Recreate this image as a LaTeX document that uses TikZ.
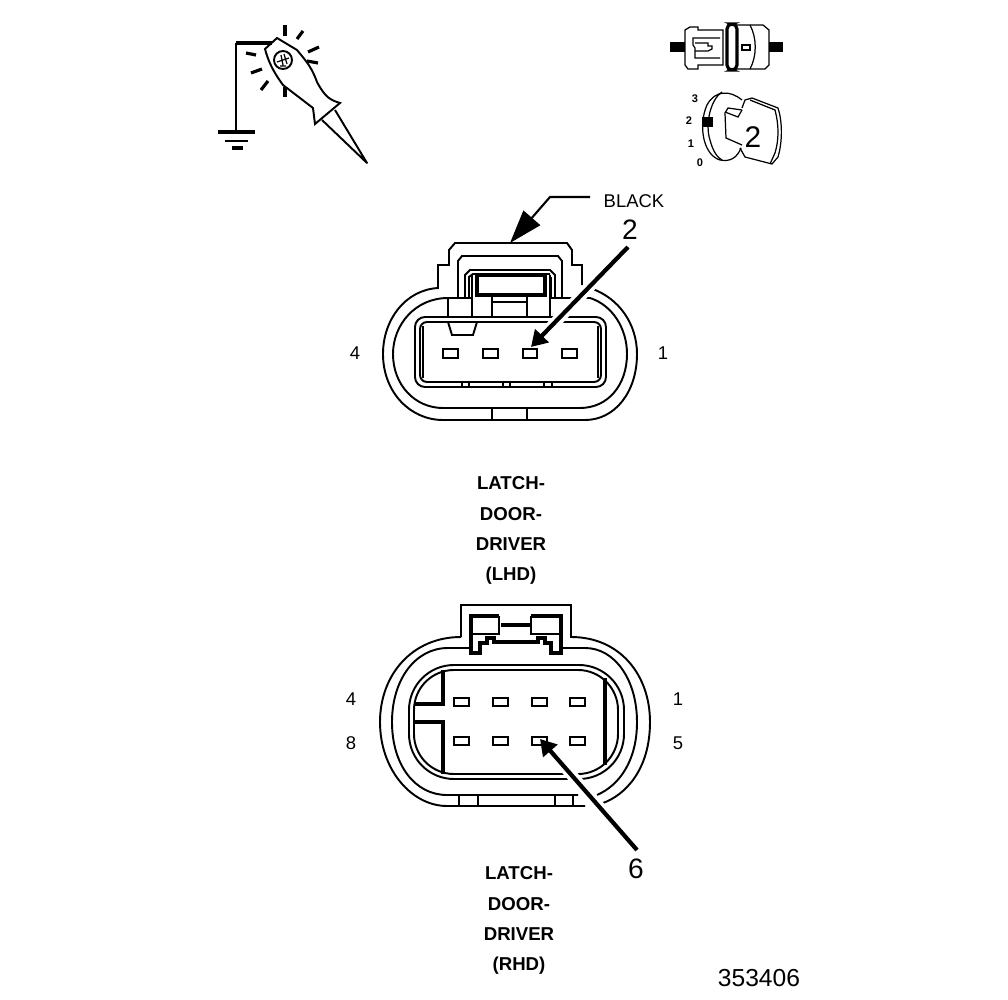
\documentclass[tikz,border=0pt]{standalone}
\usepackage{fontspec}
\setmainfont{Liberation Sans}
\usetikzlibrary{arrows.meta}
\tikzset{
  thinline/.style={black,line width=1.1pt},
  hairline/.style={black,line width=0.7pt},
  heavyline/.style={black,line width=1.8pt},
  halo/.style={white,line width=6.5pt},
  pointer/.style={black,line width=2.4pt,-{Triangle[length=9pt,width=10.5pt]}},
  pinbox/.style={draw=black,line width=1.1pt,rectangle,minimum width=8.4pt,minimum height=5.6pt,inner sep=0pt},
  pinboxlow/.style={draw=black,line width=1.1pt,rectangle,minimum width=8.4pt,minimum height=4.4pt,inner sep=0pt},
  pinlabel/.style={font=\fontsize{10.5}{12}\selectfont,inner sep=0pt},
  biglabel/.style={font=\fontsize{16}{18}\selectfont,inner sep=0pt},
  keylabel/.style={font=\bfseries\fontsize{6.3}{7}\selectfont,inner sep=0pt},
  caption/.style={font=\bfseries\fontsize{10.6}{12}\selectfont,inner sep=0pt,anchor=base}
}
\begin{document}
\begin{tikzpicture}[x=0.2mm,y=-0.2mm]
  \useasboundingbox (0,0) rectangle (1008,1000);
  % test light
  \draw [heavyline] (236,43) -- (272,43);
  \draw [thinline] (236,43) -- (236,132);
  \draw [heavyline] (218,132) -- (255,132);
  \draw [thinline] (225,141) -- (248,141);
  \draw [heavyline] (232,148) -- (243,148);
  \draw [thinline] (277,38) -- (265,49) .. controls (268,60) and (272,70) .. (283,85)
    -- (313,108) -- (315,124) -- (340,103) .. controls (330,100) and (325,97) .. (317,82)
    .. controls (312,68) and (307,62) .. (297,50) -- cycle;
  \draw [thinline,line join=round] (322,120) -- (367,163) -- (335,110);
  \draw [thinline] (283,60) circle (9);
  \draw [hairline] (277,62) -- (289,58) (281,55) -- (283,65) (284,54) -- (287,64) (280,66) -- (286,66);
  \foreach \xa/\ya/\xb/\yb in {285/25/285/36, 303/31/297/39, 319/47/308/52, 318/63/307/61,
                               246/53/256/55, 251/73/262/69, 261/90/268/81, 285/87/285/97}
    \draw [heavyline] (\xa,\ya) -- (\xb,\yb);
  % key switch, upper part
  \fill [black] (670,42) rectangle (685,52);
  \fill [black] (769,42) rectangle (783,52);
  \draw [hairline] (685,43) -- (685,30) -- (690,27) -- (698,27) -- (698,30) -- (723,30)
    -- (723,65) -- (698,65) -- (698,69) -- (688,69) -- (685,65) -- cycle;
  \draw [hairline] (720,38) -- (693,38) -- (693,45) -- (695,48) -- (695,58) -- (720,58);
  \draw [hairline] (695,43) -- (708,43) -- (708,46) -- (712,46) -- (712,49) -- (708,51) -- (695,51);
  \draw [heavyline,rounded corners=1mm] (727,24) rectangle (737,70);
  \draw [hairline] (737,25) -- (763,25) -- (769,30) -- (769,65) -- (765,69) -- (737,69);
  \draw [hairline] (750,25) .. controls (757,38) and (757,56) .. (750,69);
  \draw [hairline] (742,45) rectangle (750,50);
  % key switch, lower part
  \draw [hairline] (742,100) .. controls (730,90) and (715,90) .. (707,105)
    .. controls (698,125) and (703,155) .. (720,160) .. controls (730,162) and (737,158) .. (741,148);
  \draw [hairline] (722,92) .. controls (710,100) and (705,125) .. (710,140) .. controls (713,152) and (718,158) .. (722,160);
  \draw [hairline] (742,110) -- (728,108) -- (725,113) -- (726,138) -- (742,145);
  \draw [hairline] (725,112) -- (738,117) -- (742,110);
  \draw [hairline] (742,108) -- (745,100) -- (752,98) -- (778,108) .. controls (782,120) and (783,140) .. (778,157)
    -- (772,164) -- (745,157) -- (740,148);
  \draw [hairline] (750,100) -- (775,110) .. controls (779,125) and (779,140) .. (775,153) -- (770,164);
  \fill [black] (702,117) rectangle (713,127);
  \node [keylabel] (keyThree) at (695,99) {3};
  \node [keylabel] (keyTwo) at (689,121) {2};
  \node [keylabel] (keyOne) at (691,144) {1};
  \node [keylabel] (keyZero) at (700,163) {0};
  \node [font=\fontsize{17}{19}\selectfont,inner sep=0pt] (keyPos) at (753,137) {2};
  % upper connector
  \draw [thinline] (582,285) -- (582,265) -- (572,265) -- (572,250) -- (567,243) -- (455,243)
    -- (449,250) -- (449,265) -- (438,265) -- (438,288)
    .. controls (405,290) and (383,320) .. (383,354) .. controls (383,392) and (410,420) .. (443,420)
    -- (585,420) .. controls (615,420) and (637,392) .. (637,354) .. controls (637,325) and (620,298) .. (590,288);
  \draw [thinline] (448,298) .. controls (415,298) and (393,325) .. (393,354) .. controls (393,385) and (415,408) .. (443,408)
    -- (580,408) .. controls (608,408) and (627,385) .. (627,354) .. controls (627,328) and (612,305) .. (590,298) -- (550,298);
  \draw [thinline] (448,298) -- (472,298);
  \draw [thinline] (448,298) -- (448,317);
  \draw [thinline,rounded corners=2mm] (415,317) rectangle (606,387);
  \draw [thinline,rounded corners=1.4mm] (420,322) rectangle (601,382);
  \draw [hairline] (423,326) -- (423,378) (598,326) -- (598,378);
  \draw [thinline] (458,297) -- (458,261) -- (462,256) -- (558,256) -- (562,261) -- (562,297);
  \draw [thinline] (465,297) -- (465,275) -- (470,270) -- (550,270) -- (555,275) -- (555,297);
  \draw [thinline] (469,297) -- (469,277) -- (473,274) -- (550,274) (551,297) -- (551,277);
  \draw [heavyline] (477,275) -- (545,275) -- (545,295) -- (477,295) -- cycle;
  \draw [thinline] (472,275) -- (472,317) (550,275) -- (550,317) (492,297) -- (492,316) (527,297) -- (527,316);
  \draw [thinline] (492,302) -- (527,302);
  \draw [thinline] (448,322) -- (452,335) -- (473,335) -- (477,322);
  \foreach \xa/\xb in {462/469, 503/510, 544/552}
    \draw [thinline] (\xa,382) -- (\xa,387) (\xb,382) -- (\xb,387);
  \draw [thinline] (492,408) -- (492,420) (527,408) -- (527,420);
  \foreach \name/\x in {pinFour/450.5, pinThree/490.5, pinTwo/530, pinOne/569.5}
    \node [pinbox] (\name) at (\x,353.5) {};
  \node [pinlabel] (lblFour) at (355,353) {4};
  \node [pinlabel] (lblOne) at (663,353) {1};
  \node [pinlabel] (lblBlack) at (634,201) {BLACK};
  \node [biglabel] (lblTwo) at (630,230) {2};
  \coordinate (tailTwo) at (628,247);
  \coordinate (tipTwo) at (531,347);
  \draw [halo] (tailTwo) -- ([shift={(16,-16)}]tipTwo);
  \draw [pointer] (tailTwo) -- (tipTwo);
  \coordinate (tailBlack) at (590,197);
  \coordinate (bendBlack) at (550,197);
  \coordinate (tipBlack) at (510,243);
  \draw [black,line width=1.2pt,-{Triangle[length=19pt,width=12.5pt]}] (tailBlack) -- (bendBlack) -- (tipBlack);
  % captions
  \node [caption] (capLatchA) at (511,489.5) {LATCH-};
  \node [caption] (capDoorA) at (511,520.5) {DOOR-};
  \node [caption] (capDriverA) at (511,550.5) {DRIVER};
  \node [caption] (capSideA) at (511,580.5) {(LHD)};
  % lower connector
  \draw [thinline] (461,637) -- (461,605) -- (571,605) -- (571,637)
    .. controls (620,637) and (650,675) .. (650,722) .. controls (650,770) and (625,795) .. (603,803);
  \draw [thinline] (461,637) .. controls (412,637) and (380,675) .. (380,722)
    .. controls (380,770) and (412,806) .. (447,806) -- (585,806);
  \draw [thinline] (471,648) -- (448,648) .. controls (415,648) and (392,680) .. (392,722)
    .. controls (392,765) and (415,795) .. (447,795) -- (578,795);
  \draw [thinline] (561,648) -- (585,648) .. controls (615,648) and (637,680) .. (637,722)
    .. controls (637,760) and (620,785) .. (597,795);
  \draw [thinline,rounded corners=9mm] (409,665) rectangle (624,779);
  \draw [thinline,rounded corners=8mm] (414,670) rectangle (618,774);
  \draw [heavyline] (443,670) -- (443,704) -- (414,704) (414,722) -- (443,722) -- (443,774);
  \draw [heavyline] (605,678) -- (605,765);
  \draw [heavyline] (499,616) -- (471,616) -- (471,653) -- (480,653) -- (480,643) -- (487,643) -- (487,638) -- (494,638) -- (494,642)
    -- (538,642) -- (538,638) -- (545,638) -- (545,643) -- (551,643) -- (551,653) -- (561,653) -- (561,616) -- (531,616);
  \draw [thinline] (471,634) -- (499,634) -- (499,616) (531,616) -- (531,634) -- (561,634);
  \draw [heavyline] (501,625) -- (531,625);
  \draw [thinline] (459,795) -- (459,806) (478,795) -- (478,806) (555,795) -- (555,806) (573,795) -- (573,806);
  \foreach \name/\x in {One/577.5, Two/539.5, Three/500.5, Four/461.5}
    \node [pinboxlow] (pin\name Up) at (\x,702) {};
  \foreach \name/\x in {Five/577.5, Six/539.5, Seven/500.5, Eight/461.5}
    \node [pinboxlow] (pin\name) at (\x,741) {};
  \node [pinlabel] (lblFourB) at (351,699) {4};
  \node [pinlabel] (lblOneB) at (678,699) {1};
  \node [pinlabel] (lblEight) at (351,743) {8};
  \node [pinlabel] (lblFive) at (678,743) {5};
  \node [biglabel] (lblSix) at (636,869) {6};
  \coordinate (tailSix) at (637,850);
  \coordinate (tipSix) at (540,739);
  \draw [halo] (tailSix) -- ([shift={(15,17)}]tipSix);
  \draw [pointer] (tailSix) -- (tipSix);
  \node [caption] (capLatchB) at (519,879.5) {LATCH-};
  \node [caption] (capDoorB) at (519,910.5) {DOOR-};
  \node [caption] (capDriverB) at (519,940.5) {DRIVER};
  \node [caption] (capSideB) at (519,970.5) {(RHD)};
  \node [font=\fontsize{14}{16}\selectfont,inner sep=0pt] (figNumber) at (759,978) {353406};
\end{tikzpicture}
\end{document}
